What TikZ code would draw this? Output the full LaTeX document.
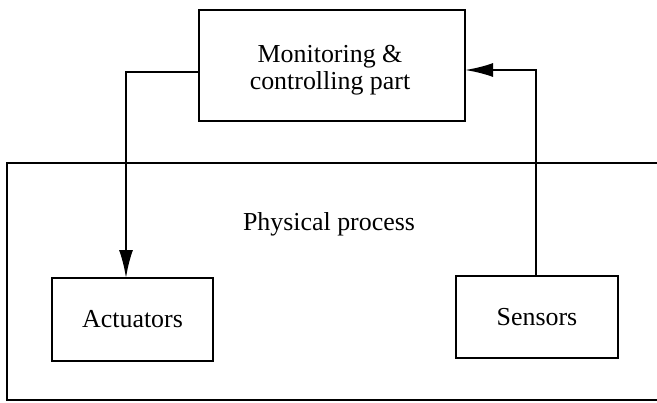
\documentclass[tikz,border=0pt]{standalone}
\usepackage{fontspec}
\setmainfont{Liberation Serif}
\usetikzlibrary{arrows.meta}
\begin{document}
\begin{tikzpicture}[x=1bp,y=-1bp,
  blk/.style={draw,line width=2.4bp,rectangle,inner sep=0pt,outer sep=0pt,align=center,
    font=\fontsize{26}{27}\selectfont},
  lbl/.style={inner sep=0pt,align=center,font=\fontsize{26}{27}\selectfont},
  conn/.style={line width=2.2bp},
  tip/.style={-{Latex[length=28bp,width=14bp]}}]
\useasboundingbox (0,0) rectangle (657,402);
% outer process frame (open on the right)
\draw[line width=2.4bp] (657,163) -- (7,163) -- (7,400) -- (657,400);
\node[lbl] (pp) at (329,224) {Physical process};
\node[blk,minimum width=266bp,minimum height=111bp] (mon) at (332,65.5) {};
\node[lbl] (montxt) at (330,70) {Monitoring \&\\controlling part};
\node[blk,minimum width=161bp,minimum height=83bp] (act) at (132.5,319.5) {Actuators};
\node[blk,minimum width=162bp,minimum height=82bp] (sen) at (537,317) {Sensors};
\coordinate (a1) at (126,72);
\coordinate (s1) at (536,70);
\draw[conn,tip] (mon.west |- a1) -- (a1) -- (a1 |- act.north);
\draw[conn,tip] (s1 |- sen.north) -- (s1) -- (mon.east |- s1);
\end{tikzpicture}
\end{document}
